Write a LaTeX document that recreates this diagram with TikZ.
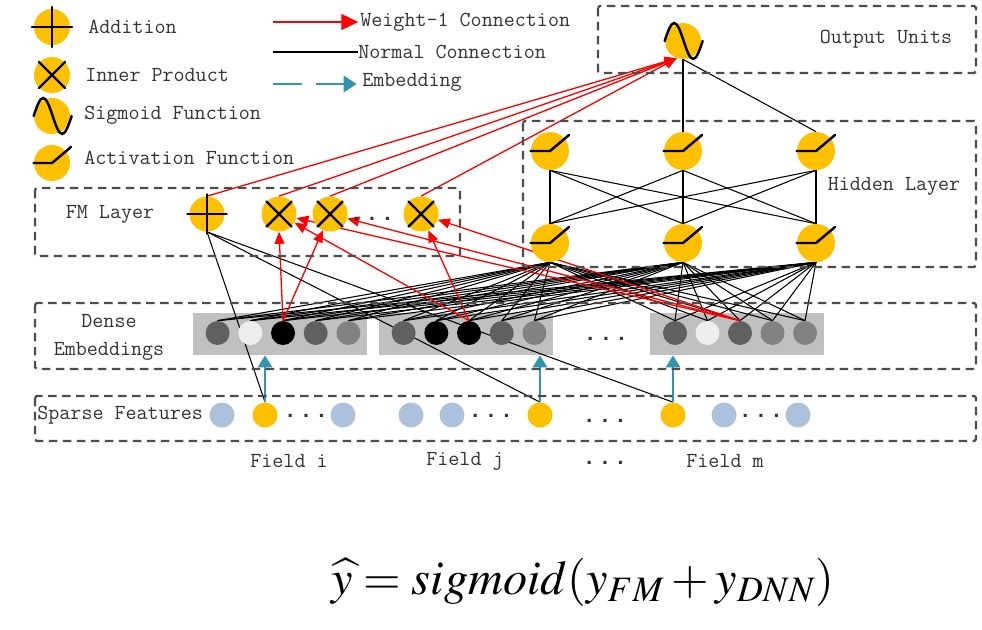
\documentclass[tikz,border=0pt]{standalone}
\usepackage{mathptmx}
\usepackage{fontspec}
\usetikzlibrary{arrows.meta,positioning}
\newfontfamily\dotfont{Liberation Mono}
\definecolor{unityellow}{RGB}{255,192,0}
\definecolor{sparseblue}{RGB}{172,193,219}
\definecolor{embgray}{RGB}{192,192,192}
\definecolor{embdark}{RGB}{96,96,96}
\definecolor{embmid}{RGB}{130,130,130}
\definecolor{embwhite}{RGB}{238,238,238}
\definecolor{embteal}{RGB}{49,149,173}
\definecolor{boxdash}{RGB}{77,77,77}
\pgfdeclarelayer{embback}
\pgfdeclarelayer{wires}
\pgfsetlayers{embback,wires,main}
% unit icons
\newcommand\addicon[1]{\draw[icon] ([xshift=-1pt]#1.west) -- ([xshift=1pt]#1.east)
   ([yshift=1pt]#1.north) -- ([yshift=-1pt]#1.south);}
\newcommand\ipicon[1]{\draw[icon] (#1.45) -- (#1.225) (#1.135) -- (#1.315);}
\newcommand\sigicon[1]{\draw[icon] (#1.west) sin ++(0.19cm,0.36cm) cos ++(0.19cm,-0.36cm)
   sin ++(0.19cm,-0.36cm) cos ++(0.19cm,0.36cm);}
\newcommand\reluicon[1]{\draw[icon] (#1.west) -- (#1.center) -- ++(0.38cm,0.32cm);}
\newcommand\threedots{{\dotfont\bfseries.\kern1.6pt.\kern1.6pt.}}

\begin{document}
\begin{tikzpicture}[x=0.02cm,y=-0.02cm,
   unit/.style={circle,fill=unityellow,minimum size=0.76cm,inner sep=0pt},
   fmunit/.style={unit,minimum size=0.7cm},
   emb/.style={circle,minimum size=0.48cm,inner sep=0pt},
   sparse/.style={circle,minimum size=0.5cm,inner sep=0pt},
   embbox/.style={fill=embgray,minimum width=3.48cm,minimum height=0.84cm,inner sep=0pt},
   layerbox/.style={draw=boxdash,line width=1.3pt,dash pattern=on 0.17cm off 0.11cm,rounded corners=1pt},
   lbl/.style={font=\ttfamily\fontsize{12.2}{14}\selectfont,text=black!80,inner sep=0pt},
   icon/.style={line width=1.4pt,line cap=round},
   normal/.style={draw=black,line width=0.6pt},
   weight/.style={draw=red,line width=0.75pt,-{Triangle[length=2.4mm,width=2mm]}},
   embed/.style={draw=embteal,line width=1.6pt,-{Triangle[length=2.4mm,width=2.8mm]}}]
  \useasboundingbox (0,0) rectangle (982,629);

  % legend
  \node[unit,minimum size=0.72cm] (lgadd) at (52,27) {};
  \node[unit,minimum size=0.72cm] (lgip) at (52,75) {};
  \node[unit,minimum size=0.72cm] (lgsig) at (52,116) {};
  \node[unit,minimum size=0.72cm] (lgrelu) at (52,163) {};
  \addicon{lgadd} \ipicon{lgip} \sigicon{lgsig} \reluicon{lgrelu}
  \node[lbl,anchor=west] at (88,27) {Addition};
  \node[lbl,anchor=west] at (85,75) {Inner Product};
  \node[lbl,anchor=west] at (84,115) {Sigmoid Function};
  \node[lbl,anchor=west] at (84,158) {Activation Function};

  \coordinate (lgw0) at (273,22);
  \node[lbl,anchor=west] (lgw) at (360,22) {Weight-1 Connection};
  \coordinate (lgn0) at (273,52);
  \node[lbl,anchor=west] (lgn) at (358,52) {Normal Connection};
  \coordinate (lge0) at (273,84);
  \node[lbl,anchor=west] (lge) at (362,82) {Embedding};
  \draw[draw=red,line width=0.75pt,-{Triangle[length=3.4mm,width=3.2mm]}] (lgw0) -- ([xshift=-1pt]lgw.west);
  \draw[normal,line width=0.8pt] (lgn0) -- (lgn.west);
  \draw[embed,dash pattern=on 0.58cm off 0.28cm,-{Triangle[length=2.6mm,width=3.2mm]}] (lge0) -- ([xshift=-3pt]lge.west |- lge0);

  % layer frames
  \draw[layerbox] (598,6) rectangle (976,73);
  \draw[layerbox] (523,121) rectangle (976,267);
  \draw[layerbox] (35,188) rectangle (460,256);
  \draw[layerbox] (35,303) rectangle (976,369);
  \draw[layerbox] (35,396) rectangle (976,441);

  % output and hidden units
  \node[unit,minimum size=0.72cm] (out) at (683,41) {};
  \node[lbl] at (886,39) {Output Units};
  \foreach \i/\x in {1/550,2/683,3/816} {
    \node[unit] (t\i) at (\x,151) {};
    \node[unit] (b\i) at (\x,243) {};
  }
  \node[lbl] at (894,186) {Hidden Layer};

  % FM layer
  \node[lbl] at (110,214) {FM Layer};
  \node[fmunit] (fmadd) at (207,214) {};
  \node[fmunit] (ip1) at (279,214) {};
  \node[fmunit] (ip2) at (330,214) {};
  \node[fmunit] (ip3) at (421,214) {};
  \node[lbl] at (372,219) {\threedots};

  % dense embeddings
  \node[lbl,align=center] at (109,337) {Dense\\[2pt]Embeddings};
  \begin{pgfonlayer}{embback}
    \node[embbox] (emb1) at (280,334) {};
    \node[embbox] (emb2) at (466,334) {};
    \node[embbox] (emb3) at (737,334) {};
  \end{pgfonlayer}
  \foreach \k/\c in {1/embdark,2/embwhite,3/black,4/embdark,5/embmid}
    \node[emb,fill=\c] (d1\k) at ({283+(\k-3)*32.7},333) {};
  \foreach \k/\c in {1/embdark,2/black,3/black,4/embdark,5/embmid}
    \node[emb,fill=\c] (d2\k) at ({469+(\k-3)*32.7},333) {};
  \foreach \k/\c in {1/embdark,2/embwhite,3/embdark,4/embmid,5/embmid}
    \node[emb,fill=\c] (d3\k) at ({740+(\k-3)*32.5},333) {};
  \node[lbl] at (606,339) {\threedots};

  % sparse features
  \node[lbl,anchor=west] at (37,415) {Sparse Features};
  \foreach \n/\x/\c in {s1/222/sparseblue,fi/265/unityellow,s2/343/sparseblue,
      s3/411/sparseblue,s4/452/sparseblue,fj/540/unityellow,fm/673/unityellow,
      s5/724/sparseblue,s6/798/sparseblue}
    \node[sparse,fill=\c] (\n) at (\x,415) {};
  \node[lbl] at (306,416) {\threedots};
  \node[lbl] at (491,416) {\threedots};
  \node[lbl] at (605,421) {\threedots};
  \node[lbl] at (761,416) {\threedots};

  \node[lbl] at (289,461) {Field i};
  \node[lbl] at (465,461) {Field j};
  \node[lbl] at (605,463) {\threedots};
  \node[lbl] at (725,461) {Field m};

  % icons on the units
  \sigicon{out}
  \foreach \i in {1,2,3} {\reluicon{t\i} \reluicon{b\i}}
  \addicon{fmadd}
  \foreach \p in {ip1,ip2,ip3} {\ipicon{\p}}

  % connections
  \begin{pgfonlayer}{wires}
    \foreach \j in {1,2,3}
      \foreach \g in {1,2,3}
        \foreach \k in {1,...,5}
          \draw[normal] (d\g\k.north) -- (b\j.south);
    \foreach \i in {1,2,3}
      \foreach \j in {1,2,3}
        \draw[normal] (t\i.south) -- (b\j.north);
    \draw[normal] (out.south) -- (t2.north);
    \draw[normal] (out.south) -- (t3.north);
    \foreach \f in {fi,fj,fm}
      \draw[normal] (fmadd.south) -- (\f.north);
    \foreach \u in {fmadd,ip1,ip2,ip3}
      \draw[weight] (\u.north) -- (out.250);
    \draw[weight] (d13.north) -- (ip1.south);
    \draw[weight] (d13.north) -- (ip2);
    \draw[weight] (d23.north) -- (ip1);
    \draw[weight] (d23.north) -- (ip3);
    \foreach \p in {ip1,ip2,ip3}
      \draw[weight] (d33.north) -- (\p);
    \draw[embed] (fi.north) -- (fi |- emb1.south);
    \draw[embed] (fj.north) -- (fj |- emb2.south);
    \draw[embed] (fm.north) -- (fm |- emb3.south);
  \end{pgfonlayer}

  % output formula
  \node (formula) at (583,582) {\fontsize{27.5}{34}\selectfont$\widehat{y}=sigmoid(y_{FM}+y_{DNN})$};
\end{tikzpicture}
\end{document}
